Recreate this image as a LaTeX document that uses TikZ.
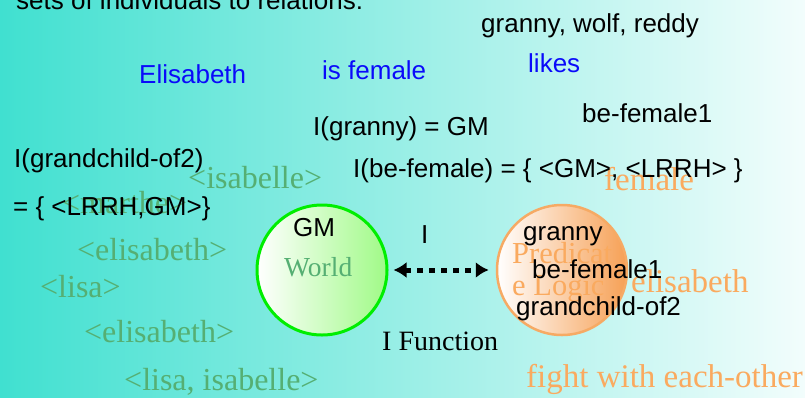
\documentclass[tikz,border=0pt]{standalone}
\usepackage{fontspec}
\setmainfont{Liberation Serif}
\setsansfont{Liberation Sans}
\usepackage{xcolor}
\usepackage{tikz}
\usetikzlibrary{arrows.meta,positioning}

\definecolor{bgleft}{RGB}{64,224,208}
\definecolor{bgright}{RGB}{242,253,252}
\definecolor{worldgreen}{RGB}{0,238,0}
\definecolor{worldfill}{RGB}{160,250,135}
\definecolor{logicedge}{RGB}{246,170,100}
\definecolor{logicfill}{RGB}{246,160,85}
\definecolor{elemgreen}{RGB}{85,175,115}
\definecolor{predorange}{RGB}{250,170,95}

\begin{document}
\begin{tikzpicture}[x=1pt,y=-1pt,
    lbl/.style={anchor=base west, inner sep=0pt, font=\sffamily\fontsize{26}{30}\selectfont},
    bluelbl/.style={lbl, text={rgb,255:red,10;green,10;blue,250}},
    elem/.style={anchor=base west, inner sep=0pt, text=elemgreen, font=\fontsize{32}{36}\selectfont},
    pred/.style={anchor=base west, inner sep=0pt, text=predorange, font=\fontsize{33}{36}\selectfont}]
    \clip (0,0) rectangle (805,397);
    \shade[left color=bgleft, right color=bgright] (0,0) rectangle (805,397);

    % the two domains
    \node[circle, minimum size=130pt, line width=3pt, draw=worldgreen,
          left color=white, right color=worldfill] (world) at (322,270) {};
    \node[circle, minimum size=130pt, line width=2.5pt, draw=logicedge,
          left color=white, right color=logicfill] (logic) at (562,270) {};

    % individuals and tuples
    \foreach \px/\py/\txt/\nm in {188/188/{<isabelle>}/isa, 62/213/{<marthe>}/mar,
        77/260/{<elisabeth>}/elia, 40/297/{<lisa>}/lisa, 84/342/{<elisabeth>}/elib,
        124/390/{<lisa, isabelle>}/lisaisa} {
        \node[elem] (\nm) at (\px,\py) {\txt};
    }
    \node[elem, font=\fontsize{27.5}{30}\selectfont] (worldlbl) at (284,276) {World};

    \node[pred] (female) at (604,190) {female};
    \node[pred, font=\fontsize{30.5}{34}\selectfont] (predicat) at (512,263) {Predicat};
    \node[pred, font=\fontsize{30.5}{34}\selectfont] (elogic) at (512,295) {e Logic};
    \node[pred] (elisa) at (631,292) {elisabeth};
    \node[pred] (fight) at (526,387) {fight with each-other};

    % interpretation
    \node[lbl] (title) at (16,9.5) {sets of individuals to relations:};
    \node[lbl] (gwr) at (481,32) {granny, wolf, reddy};
    \node[bluelbl] (elis) at (139,83) {Elisabeth};
    \node[bluelbl] (isfem) at (322,79) {is female};
    \node[bluelbl] (likes) at (528,72) {likes};
    \node[lbl] (befem) at (582,122) {be-female1};
    \node[lbl] (igranny) at (313,135) {I(granny) = GM};
    \node[lbl] (igc) at (14,167) {I(grandchild-of2)};
    \node[lbl] (ibefem) at (353,177) {I(be-female) = \{ <GM>, <LRRH> \}};
    \node[lbl] (igcset) at (13,215) {= \{ <LRRH,GM>\}};

    \node[lbl] (gm) at (293,236) {GM};
    \node[lbl] (sgranny) at (523,240) {granny};
    \node[lbl] (sbefem) at (532,278) {be-female1};
    \node[lbl] (sgc) at (516,315) {grandchild-of2};

    \node[lbl] (ilbl) at (421,243) {I};
    \node[anchor=base west, inner sep=0pt, font=\fontsize{28}{30}\selectfont] (ifunc) at (382,350) {I Function};

    \draw[line width=5pt, dash pattern=on 6pt off 6pt,
          {Latex[length=13pt,width=16pt]}-{Latex[length=13pt,width=16pt]},
          shorten <=5pt, shorten >=7pt] (world.east) -- (logic.west);
\end{tikzpicture}
\end{document}
